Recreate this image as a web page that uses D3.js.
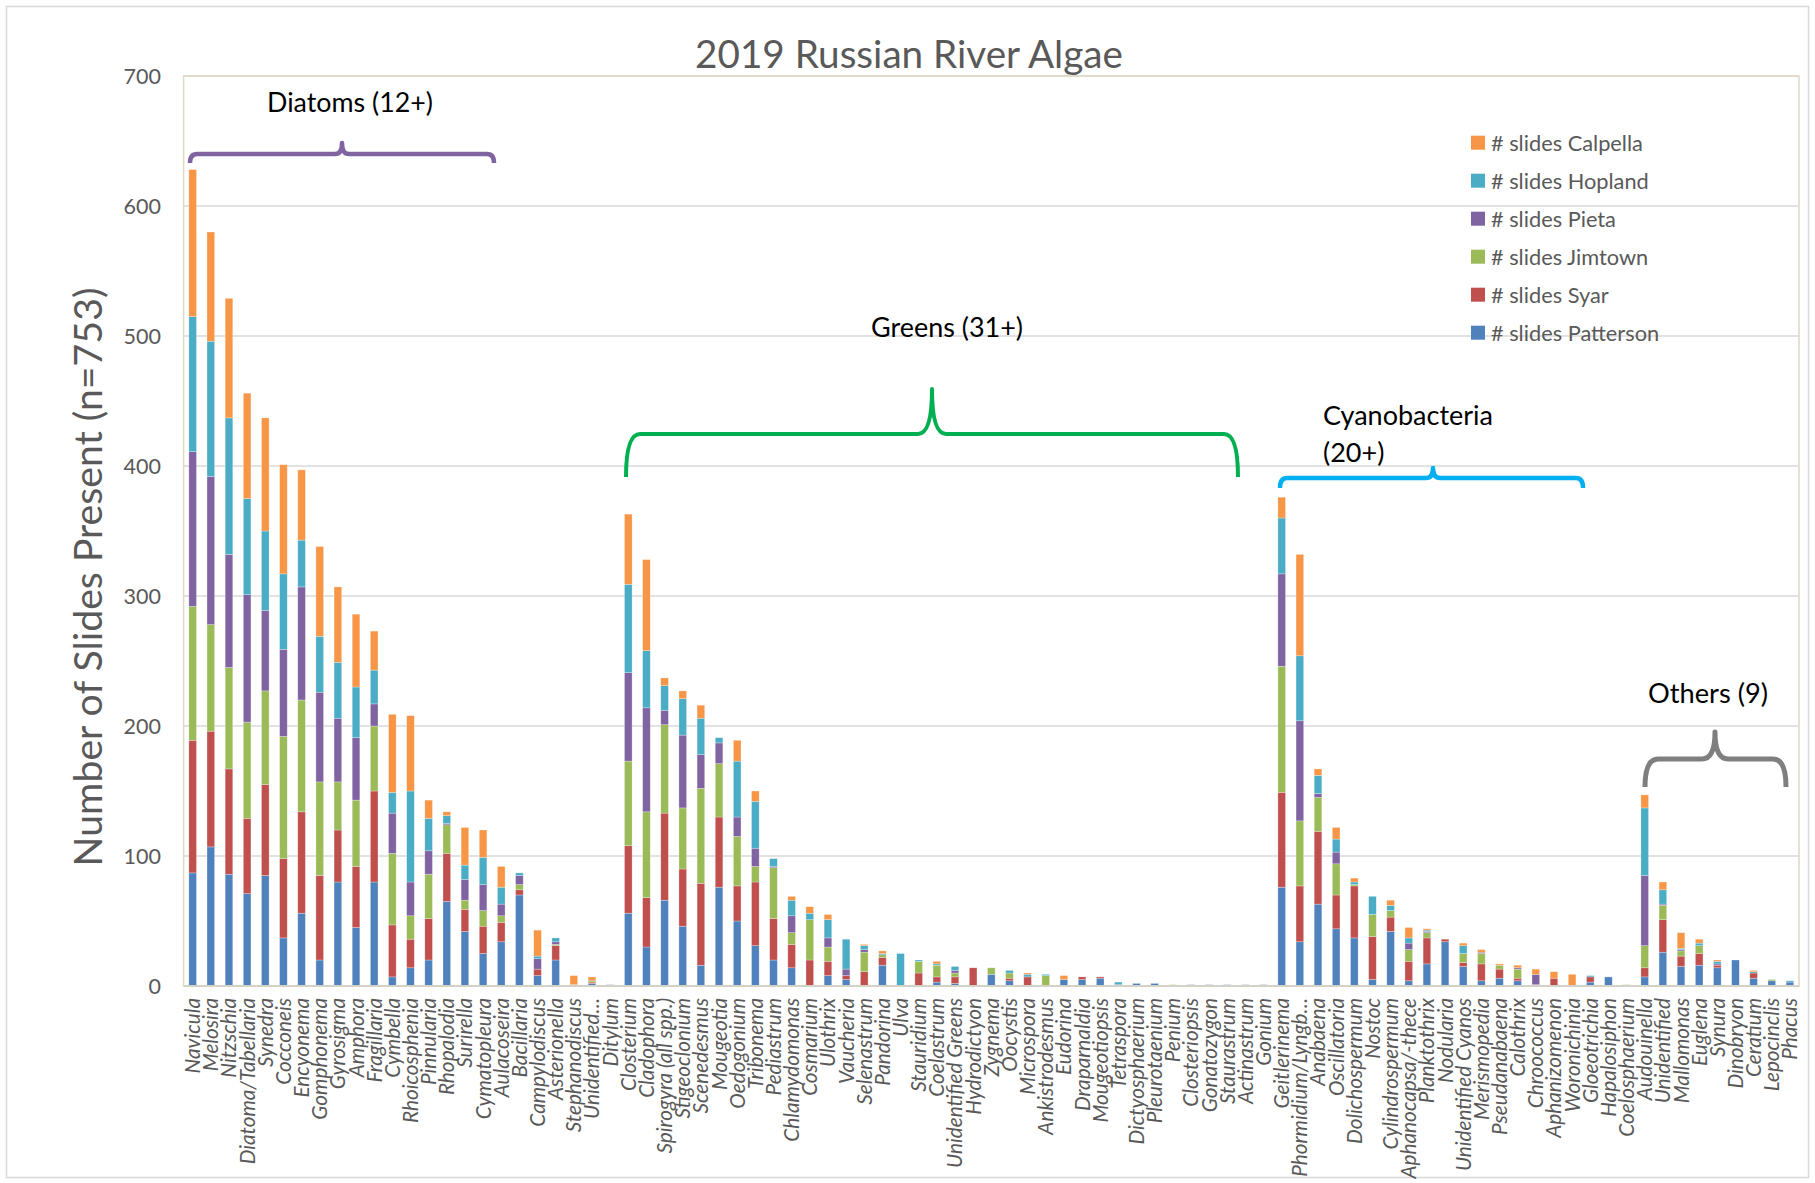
<!DOCTYPE html>
<html>
<head>
<meta charset="utf-8">
<script src="https://cdn.jsdelivr.net/npm/d3@7"></script>
<style>
  html, body { margin: 0; padding: 0; background: #fff; }
  svg { display: block; font-family: Lato, "Open Sans", sans-serif; }
</style>
</head>
<body>
<svg id="chart" width="1815" height="1183"></svg>
<script>
// Genera, grouped Diatoms / Greens / Cyanobacteria / Others
const categories = [
  "Navicula","Melosira","Nitzschia","Diatoma/Tabellaria","Synedra","Cocconeis","Encyonema","Gomphonema",
  "Gyrosigma","Amphora","Fragillaria","Cymbella","Rhoicosphenia","Pinnularia","Rhopalodia","Surirella",
  "Cymatopleura","Aulacoseira","Bacillaria","Campylodiscus","Asterionella","Stephanodiscus","Unidentified…","Ditylum",
  "Closterium","Cladophora","Spirogyra (all spp.)","Stigeoclonium","Scenedesmus","Mougeotia","Oedogonium","Tribonema",
  "Pediastrum","Chlamydomonas","Cosmarium","Ulothrix","Vaucheria","Selenastrum","Pandorina","Ulva",
  "Stauridium","Coelastrum","Unidentified Greens","Hydrodictyon","Zygnema","Oocystis","Microspora","Ankistrodesmus",
  "Eudorina","Draparnaldia","Mougeotiopsis","Tetraspora","Dictyosphaerium","Pleurotaenium","Penium","Closteriopsis",
  "Gonatozygon","Staurastrum","Actinastrum","Gonium",
  "Geitlerinema","Phormidium/Lyngb…","Anabaena","Oscillatoria","Dolichospermum","Nostoc","Cylindrospermum","Aphanocapsa/-thece",
  "Planktothrix","Nodularia","Unidentified Cyanos","Merismopedia","Pseudanabaena","Calothrix","Chroococcus","Aphanizomenon",
  "Woronichinia","Gloeotrichia","Hapalosiphon","Coelosphaerium",
  "Audouinella","Unidentified","Mallomonas","Euglena","Synura","Dinobryon","Ceratium","Lepocinclis","Phacus"
];

// Number of slides per site (same order as categories)
const patterson = [87,107,86,71,85,37,56,20,80,45,80,7,14,20,65,42,25,34,70,8,20,0,2,1,
  56,30,66,46,16,76,50,31,20,14,0,8,5,0,16,0,0,3,2,0,9,4,0,0,5,5,6,0,2,2,0,1,1,1,1,1,
  76,34,63,44,37,5,42,4,17,34,15,4,6,4,0,0,0,3,7,0,
  7,26,15,16,14,20,6,4,3];
const syar = [102,89,81,58,70,61,78,65,40,47,70,40,22,32,37,17,21,15,4,5,11,0,1,0,
  52,38,67,44,63,54,27,49,32,18,20,11,3,11,6,0,10,4,5,14,0,2,7,0,0,2,1,1,0,0,0,0,0,0,0,0,
  73,43,56,26,40,33,11,15,20,2,3,13,7,2,0,6,0,4,0,0,
  7,25,8,9,2,0,4,0,0];
const jimtown = [103,82,78,74,72,94,86,72,37,51,50,55,18,34,22,7,12,5,4,0,1,0,1,0,
  65,66,68,47,73,41,38,12,39,9,31,11,0,15,2,0,9,9,3,0,5,4,0,8,0,0,0,0,0,0,1,0,0,0,0,0,
  97,50,26,24,1,17,5,9,4,0,7,8,3,7,1,0,0,0,0,1,
  17,11,4,6,0,0,0,1,0];
const pieta = [119,114,87,98,62,67,87,69,49,48,17,31,26,18,1,16,20,9,7,8,2,0,0,0,
  68,80,11,56,26,16,15,14,1,13,0,7,5,2,0,0,0,0,2,0,0,0,0,0,0,0,0,0,0,0,0,0,0,0,0,0,
  71,77,3,9,0,0,0,5,1,0,0,1,0,1,8,0,0,0,0,0,
  54,1,1,0,1,0,0,0,0];
const hopland = [104,104,105,74,61,58,36,43,43,39,26,16,70,25,6,11,21,13,2,2,3,1,0,0,
  68,44,19,28,28,4,43,36,6,12,5,14,23,3,1,25,1,1,3,0,0,2,2,1,0,0,0,2,0,0,0,0,0,0,0,0,
  43,50,14,10,2,14,4,4,1,0,6,0,0,0,0,0,0,1,0,0,
  52,11,1,2,2,0,1,0,1];
const calpella = [113,84,92,81,87,84,54,69,58,56,30,60,58,14,3,29,21,16,0,20,0,7,3,0,
  54,70,6,6,10,0,16,8,0,3,5,4,0,1,2,0,0,2,0,0,0,0,1,0,3,0,0,0,0,0,0,0,0,0,0,0,
  16,78,5,9,3,0,4,8,1,0,2,2,1,2,4,5,9,0,0,0,
  10,6,12,3,1,0,1,0,0];

const seriesNames = ["# slides Patterson","# slides Syar","# slides Jimtown","# slides Pieta","# slides Hopland","# slides Calpella"];
const seriesValues = [patterson, syar, jimtown, pieta, hopland, calpella];
const seriesColors = ["#4f81bd","#c0504d","#9bbb59","#8064a2","#4bacc6","#f79646"];
const yTicks = [0,100,200,300,400,500,600,700];

const svg = d3.select("#chart");
const W = 1815, H = 1183;
const plot = { left: 183.6, right: 1799, top: 76, bottom: 986 };

// Outer chart frame
svg.append("rect").attr("x", 6.5).attr("y", 6.5).attr("width", W - 13).attr("height", H - 12)
  .attr("fill", "#fff").attr("stroke", "#d9d9d9").attr("stroke-width", 1.5);

const x = d3.scaleBand().domain(categories).range([plot.left, plot.right])
  .paddingInner(0.58).paddingOuter(0.29);
const y = d3.scaleLinear().domain([0, 700]).range([plot.bottom, plot.top]);

// Gridlines
svg.append("g").selectAll("line").data(yTicks.filter(t => t > 0)).join("line")
  .attr("x1", plot.left).attr("x2", plot.right)
  .attr("y1", d => y(d)).attr("y2", d => y(d))
  .attr("stroke", "#d9d9d9").attr("stroke-width", 1.6);

// Plot-area frame
svg.append("rect").attr("x", plot.left).attr("y", plot.top)
  .attr("width", plot.right - plot.left).attr("height", plot.bottom - plot.top)
  .attr("fill", "none").attr("stroke", "#ddd9c4").attr("stroke-width", 1.5);

// Y axis tick labels
const yAxis = d3.axisLeft(y).tickValues(yTicks).tickSize(0).tickPadding(0);
const gy = svg.append("g").attr("transform", `translate(161,0)`).call(yAxis);
gy.select(".domain").remove();
gy.selectAll("text").attr("font-size", 21.5).attr("fill", "#595959")
  .attr("font-family", "Lato, sans-serif").attr("dy", "0.36em");

// Stacked bars
const table = categories.map((c, i) => {
  const row = { cat: c };
  seriesNames.forEach((s, k) => row[s] = seriesValues[k][i]);
  return row;
});
const stacked = d3.stack().keys(seriesNames)(table);
svg.append("g").selectAll("g").data(stacked).join("g")
  .attr("fill", (d, i) => seriesColors[i])
  .selectAll("rect").data(d => d).join("rect")
  .attr("x", d => x(d.data.cat))
  .attr("width", x.bandwidth())
  .attr("y", d => y(d[1]))
  .attr("height", d => Math.max(0, y(d[0]) - y(d[1])))
  .attr("stroke", "rgba(255,255,255,0.45)").attr("stroke-width", 0.6);

// Base axis line
svg.append("line").attr("x1", plot.left).attr("x2", plot.right)
  .attr("y1", plot.bottom).attr("y2", plot.bottom)
  .attr("stroke", "#d4d2c6").attr("stroke-width", 2);

// Category labels (rotated, italic)
const xAxis = d3.axisBottom(x).tickSize(0).tickPadding(0);
const gx = svg.append("g").attr("transform", `translate(0,${plot.bottom})`).call(xAxis);
gx.select(".domain").remove();
const xLabels = gx.selectAll("text")
  .attr("font-family", "Lato, sans-serif").attr("font-style", "italic")
  .attr("font-size", 20).attr("fill", "#595959")
  .attr("text-anchor", "end")
  .attr("transform", "translate(0,12) rotate(-90)")
  .attr("x", 0).attr("y", 0).attr("dy", "0.36em");
// size all labels so that "Unidentified Greens" spans ~170px
const refLabel = xLabels.filter(d => d === "Unidentified Greens").node();
const labelSize = 20 * 170 / refLabel.getComputedTextLength();
xLabels.attr("font-size", labelSize);

function fitText(sel, width) {
  const fs = parseFloat(sel.attr("font-size"));
  const w = sel.node().getComputedTextLength();
  sel.attr("font-size", fs * width / w);
  return sel;
}

// Title
fitText(svg.append("text").attr("x", 909).attr("y", 67.5).attr("text-anchor", "middle")
  .attr("font-size", 34).attr("fill", "#595959").text("2019 Russian River Algae"), 428);

// Y axis title
fitText(svg.append("text").attr("transform", "translate(102,577) rotate(-90)")
  .attr("text-anchor", "middle").attr("font-size", 38).attr("fill", "#595959")
  .text("Number of Slides Present (n=753)"), 579);

// Group braces
function bracePath(x0, x1, yl, drop, xc, rise, r) {
  return `M${x0},${yl + drop} Q${x0},${yl} ${x0 + r},${yl} L${xc - r},${yl} ` +
         `Q${xc},${yl} ${xc},${yl - rise} Q${xc},${yl} ${xc + r},${yl} ` +
         `L${x1 - r},${yl} Q${x1},${yl} ${x1},${yl + drop}`;
}
const braces = [
  { x0: 190, x1: 494, y: 154, drop: 9, xc: 342, rise: 11, r: 7, color: "#8064a2", w: 4.5 },
  { x0: 626, x1: 1238, y: 434, drop: 43, xc: 932, rise: 45, r: 14, color: "#00b050", w: 4 },
  { x0: 1280, x1: 1583, y: 478, drop: 10, xc: 1433, rise: 10, r: 7, color: "#00b0f0", w: 4.5 },
  { x0: 1645, x1: 1786, y: 759, drop: 28, xc: 1715, rise: 27, r: 13, color: "#7f7f7f", w: 5 }
];
svg.append("g").selectAll("path").data(braces).join("path")
  .attr("d", b => bracePath(b.x0, b.x1, b.y, b.drop, b.xc, b.rise, b.r))
  .attr("fill", "none").attr("stroke", b => b.color).attr("stroke-width", b => b.w)
  .attr("stroke-linecap", "butt").attr("stroke-linejoin", "round");

// Group labels
const notes = svg.append("g").attr("fill", "#000").attr("font-family", "Lato, sans-serif");
fitText(notes.append("text").attr("x", 350).attr("y", 112).attr("text-anchor", "middle")
  .attr("font-size", 25).text("Diatoms (12+)"), 166);
fitText(notes.append("text").attr("x", 947).attr("y", 337).attr("text-anchor", "middle")
  .attr("font-size", 25).text("Greens (31+)"), 152);
const cy = notes.append("text").attr("x", 1323).attr("y", 425).attr("font-size", 25).text("Cyanobacteria");
fitText(cy, 170);
notes.append("text").attr("x", 1323).attr("y", 462).attr("font-size", cy.attr("font-size")).text("(20+)");
fitText(notes.append("text").attr("x", 1708).attr("y", 703).attr("text-anchor", "middle")
  .attr("font-size", 25).text("Others (9)"), 120);

// Legend (top entry = top segment)
const legendOrder = d3.range(seriesNames.length).reverse();
const lg = svg.append("g").selectAll("g").data(legendOrder).join("g")
  .attr("transform", (k, i) => `translate(1471,${142.7 + i * 38})`);
lg.append("rect").attr("x", 0).attr("y", -7).attr("width", 14).attr("height", 14)
  .attr("fill", k => seriesColors[k]);
const lgText = lg.append("text").attr("x", 20).attr("dy", "0.36em")
  .attr("font-size", 21).attr("fill", "#595959").text(k => seriesNames[k]);
const lgRef = lgText.filter(k => k === 5).node();
lgText.attr("font-size", 21 * 152 / lgRef.getComputedTextLength());
</script>
</body>
</html>
